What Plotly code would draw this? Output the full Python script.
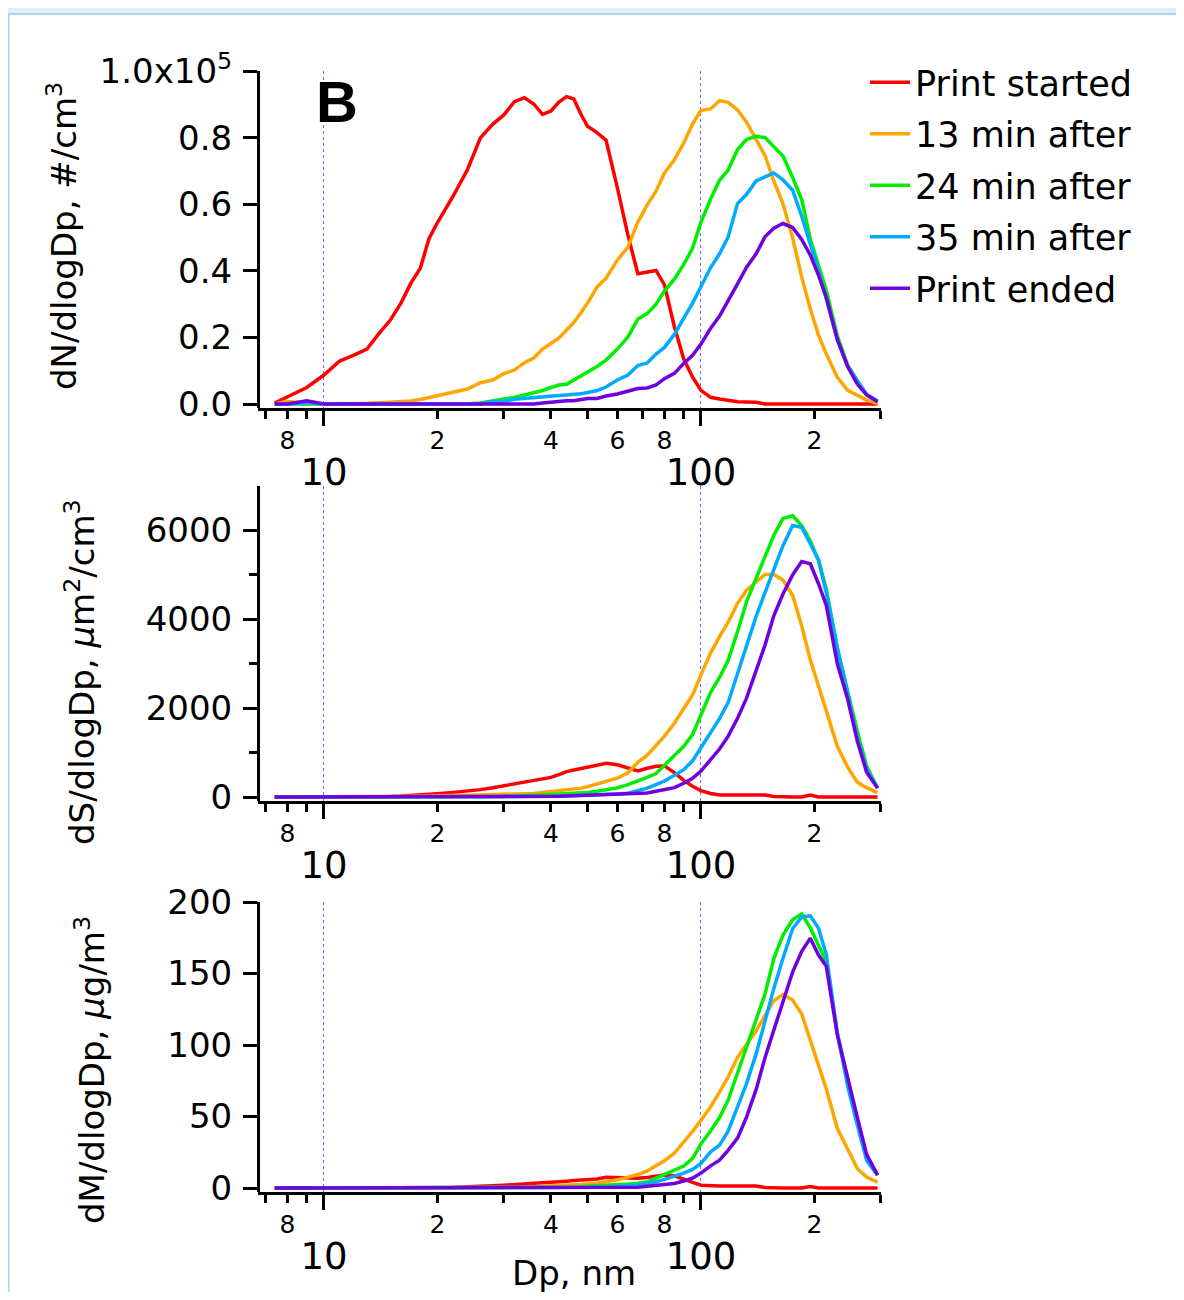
import plotly.graph_objects as go

# ---------------- data ----------------
diameter_nm = [7.4, 8, 9, 10, 11, 12, 13, 14, 15, 16,
               17, 18, 19, 20,
               22, 24, 26, 28, 30,
               32, 34, 36, 38, 40,
               42, 44, 46, 48, 50,
               53, 56, 60, 64, 68,
               72, 76, 80, 85, 90,
               95, 100, 106, 112, 118,
               125, 132, 140, 148, 156,
               165, 175, 185, 195, 205,
               215, 230, 245, 260, 275,
               294]

series_names = ["Print started", "13 min after", "24 min after", "35 min after", "Print ended"]
series_colors = ["#ff0000", "#ffa500", "#00ee00", "#00aaff", "#7000e0"]

# number distribution dN/dlogDp (#/cm3)
dN_started = [300, 2100, 4950, 8700, 12900, 14700, 16500, 21200, 25200, 30300,
              36300, 40700, 49700, 54500,
              62400, 70300, 79900, 84000, 86800,
              90800, 92000, 90100, 87000, 88000,
              90700, 92300, 91600, 87100, 83400,
              81500, 79200, 65000, 50700, 39100,
              39500, 40100, 35800, 23200, 13500,
              8100, 4100, 2000, 1500, 1000,
              650, 600, 550, 0, 0,
              0, 0, 0, 0, 0,
              0, 0, 0, 0, 0,
              0]
dN_13 = [0, 800, 0, 0, 0, 0, 200, 400, 500, 700,
         900, 1350, 1950, 2300,
         3450, 4500, 6400, 7200, 9100,
         10200, 12400, 13800, 16500, 18200,
         19800, 22200, 24500, 27300, 30300,
         35100, 37800, 43200, 47100, 54600,
         59800, 63900, 69400, 73300, 78400,
         84100, 88200, 88600, 91100, 90600,
         88300, 84700, 79700, 74500, 67000,
         60100, 49900, 38100, 28500, 20700,
         15000, 8000, 4100, 2600, 1200,
         100]
dN_24 = [0, 0, 0, 0, 0, 0, 0, 0, 0, 0,
         0, 0, 0, 0,
         0, 100, 300, 1050, 1500,
         1950, 2700, 3150, 4050, 4950,
         5700, 5900, 7200, 8400, 9450,
         11250, 13200, 16500, 20100, 25500,
         27150, 30000, 33900, 37500, 41900,
         46800, 54600, 61500, 67200, 70200,
         76400, 79400, 80400, 80000, 77300,
         74500, 68000, 61400, 49500, 42000,
         34200, 20400, 11700, 6900, 2850,
         900]
dN_35 = [0, 0, 300, 0, 0, 0, 0, 0, 0, 0,
         0, 0, 0, 0,
         0, 0, 0, 750, 900,
         1400, 1700, 1950, 2250, 2400,
         2550, 2700, 2850, 3050, 3450,
         4050, 5100, 7200, 8700, 11550,
         12300, 15000, 17000, 20900, 25700,
         30300, 35300, 40900, 45100, 50100,
         60200, 62900, 67000, 68300, 69400,
         67300, 64200, 56400, 48100, 39900,
         31500, 19200, 11300, 6900, 2850,
         900]
dN_ended = [0, 0, 1000, 0, 0, 0, 0, 0, 0, 0,
            0, 0, 0, 0,
            0, 0, 0, 0, 0,
            0, 0, 0, 300, 600,
            800, 1000, 1000, 1300, 1650,
            1650, 2400, 3000, 3800, 4650,
            4800, 5700, 7600, 9200, 12200,
            14600, 18000, 22700, 26400, 30800,
            36100, 41000, 45100, 50300, 52800,
            54200, 53000, 49400, 44700, 38700,
            32000, 19400, 11200, 5900, 2700,
            700]

# surface distribution dS/dlogDp (um2/cm3)
dS_started = [0, 0, 0, 0, 0, 0, 0, 0, 10, 20,
              30, 40, 55, 75,
              104, 131, 166, 207, 249,
              296, 334, 363, 396, 441,
              503, 571, 609, 640, 672,
              720, 757, 726, 658, 586,
              647, 693, 700, 548, 375,
              242, 145, 79, 45, 45,
              45, 45, 45, 45, 10,
              0, 0, 0, 45, 0,
              0, 0, 0, 0, 0,
              0]
dS_13 = [0, 0, 0, 0, 0, 0, 0, 0, 0, 0,
         10, 15, 20, 30,
         35, 40, 45, 50, 50,
         60, 70, 80, 100, 120,
         140, 150, 170, 200, 230,
         290, 360, 425, 545, 780,
         940, 1150, 1370, 1660, 1990,
         2300, 2750, 3240, 3610, 3930,
         4360, 4650, 4840, 5010, 5010,
         4885, 4540, 3850, 3090, 2480,
         1930, 1140, 670, 330, 210,
         100]
dS_24 = [0, 0, 0, 0, 0, 0, 0, 0, 0, 0,
         0, 0, 0, 0,
         0, 0, 0, 0, 10,
         20, 25, 35, 45, 55,
         65, 75, 80, 90, 100,
         130, 160, 205, 280, 355,
         443, 526, 708, 930, 1142,
         1406, 1830, 2350, 2690, 3070,
         3720, 4390, 4920, 5440, 5890,
         6270, 6330, 6110, 5760, 5330,
         4680, 3350, 2380, 1470, 700,
         200]
dS_35 = [0, 0, 0, 0, 0, 0, 0, 0, 0, 0,
         0, 0, 0, 0,
         0, 0, 0, 0, 0,
         0, 0, 0, 10, 15,
         20, 25, 28, 30, 35,
         45, 55, 65, 85, 140,
         200, 280, 360, 490, 614,
         815, 1100, 1450, 1764, 2123,
         2780, 3425, 4060, 4610, 5115,
         5657, 6110, 6070, 5700, 5330,
         4600, 3350, 2320, 1320, 640,
         200]
dS_ended = [0, 0, 0, 0, 0, 0, 0, 0, 0, 0,
            0, 0, 0, 0,
            0, 0, 0, 0, 0,
            0, 0, 0, 0, 10,
            15, 20, 25, 30, 40,
            45, 50, 60, 68, 80,
            92, 130, 175, 210, 310,
            420, 585, 825, 1080, 1365,
            1770, 2220, 2815, 3430, 4080,
            4570, 5000, 5300, 5250, 4800,
            4310, 3000, 2200, 1250, 560,
            200]

# mass distribution dM/dlogDp (ug/m3)
dM_started = [0, 0, 0, 0, 0, 0, 0, 0, 0, 0,
              0, 0, 0, 0,
              0.3, 0.8, 1.5, 1.6, 2.0,
              2.3, 2.6, 3.0, 3.6, 4.0,
              4.2, 4.8, 5.2, 5.4, 5.6,
              6.3, 7.5, 7.2, 6.5, 6.8,
              7.4, 8.5, 9.0, 8.5, 6.5,
              4.0, 2.0, 1.4, 1.4, 1.4,
              1.4, 1.4, 1.4, 0.3, 0,
              0, 0, 0, 1.0, 0,
              0, 0, 0, 0, 0,
              0]
dM_13 = [0, 0, 0, 0, 0, 0, 0, 0, 0, 0,
         0, 0, 0, 0,
         0, 0, 0, 0, 0.2,
         0.4, 0.6, 0.8, 1.0, 1.2,
         1.4, 1.7, 2.0, 2.4, 2.8,
         3.3, 4.4, 5.7, 7.6, 9.4,
         11.9, 15.5, 19.1, 24.3, 31.7,
         39.6, 47.4, 56.7, 67.1, 77.6,
         91.4, 100.2, 109.8, 120.8, 130.9,
         135.3, 131.4, 121.7, 103.6, 85.7,
         69.2, 41.6, 26.4, 13.5, 7.7,
         4]
dM_24 = [0, 0, 0, 0, 0, 0, 0, 0, 0, 0,
         0, 0, 0, 0,
         0, 0, 0, 0, 0,
         0, 0, 0, 0, 0.2,
         0.3, 0.5, 0.7, 0.9, 1.1,
         1.4, 1.7, 2.1, 2.8, 3.4,
         4.2, 6.9, 9.5, 12.4, 15.3,
         20.7, 30.8, 39.9, 49.2, 61.4,
         80.2, 98.5, 118.8, 136, 160.4,
         176.9, 187.6, 191.6, 182, 170,
         158, 108, 77, 46, 22,
         9]
dM_35 = [0, 0, 0, 0, 0, 0, 0, 0, 0, 0,
         0, 0, 0, 0,
         0, 0, 0, 0, 0,
         0, 0, 0, 0, 0,
         0, 0, 0.2, 0.3, 0.4,
         0.5, 0.7, 1.0, 1.6, 2.2,
         3.3, 4.3, 6.0, 8.2, 10.4,
         13.0, 17.2, 25.2, 30.0, 39.7,
         55.9, 72.8, 93.6, 117.3, 139.4,
         160.7, 181.3, 189.5, 190.3, 181.6,
         163.2, 108.3, 71, 43.7, 19.3,
         9]
dM_ended = [0, 0, 0, 0, 0, 0, 0, 0, 0, 0,
            0, 0, 0, 0,
            0, 0, 0, 0, 0,
            0, 0, 0, 0, 0,
            0, 0, 0, 0, 0.2,
            0.2, 0.3, 0.4, 0.5, 0.6,
            1.2, 1.8, 2.4, 3.1, 4.9,
            6.9, 10.4, 15.5, 19.4, 26.3,
            34.9, 49.4, 68.8, 91.5, 110.4,
            130, 151, 165.5, 174.7, 162.9,
            155, 107, 76.5, 49, 23.5,
            9]

panels = [
    [dN_started, dN_13, dN_24, dN_35, dN_ended],
    [dS_started, dS_13, dS_24, dS_35, dS_ended],
    [dM_started, dM_13, dM_24, dM_35, dM_ended],
]

# tick labels
labeled_tickvals = [8, 20, 40, 60, 80, 200]
labeled_ticktext = ["8", "2", "4", "6", "8", "2"]
unlabeled_tickvals = [7, 9, 30, 50, 70, 90, 300]
major_tickvals = [10, 100]
major_ticktext = ["10", "100"]

yN_tickvals = [0, 20000, 40000, 60000, 80000, 100000]
yN_ticktext = ["0.0", "0.2", "0.4", "0.6", "0.8", "1.0x10<sup>5</sup>"]
yS_tickvals = [0, 2000, 4000, 6000]
yS_ticktext = ["0", "2000", "4000", "6000"]
yS_minorvals = [1000, 3000, 5000]
yM_tickvals = [0, 50, 100, 150, 200]
yM_ticktext = ["0", "50", "100", "150", "200"]

y_titles = ["dN/dlogDp, #/cm<sup>3</sup>",
            "dS/dlogDp, <i>µ</i>m<sup>2</sup>/cm<sup>3</sup>",
            "dM/dlogDp, <i>µ</i>g/m<sup>3</sup>"]

# ---------------- layout geometry ----------------
# the page body adds an 8 px margin, so the figure is drawn 8 px smaller
OFF = 8
W, H = 1168, 1284
FONT = "DejaVu Sans"


def px_x(p):
    return (p - OFF) / W


def px_y(p):
    return 1 - (p - OFF) / H


x_dom = [px_x(258), px_x(881)]
x_range = [0.825, 2.4775]
y_doms = [[px_y(408), px_y(71)], [px_y(801), px_y(486)], [px_y(1192), px_y(902)]]
y_ranges = [[-1200, 100000], [-90, 7000], [-2.8, 200]]
y_ticks = [(yN_tickvals, yN_ticktext), (yS_tickvals, yS_ticktext), (yM_tickvals, yM_ticktext)]

fig = go.Figure()

for p, data in enumerate(panels):
    xa = "x" if p == 0 else f"x{p + 1}"
    ya = "y" if p == 0 else f"y{p + 1}"
    for i, vals in enumerate(data):
        fig.add_trace(go.Scatter(
            x=diameter_nm, y=vals, mode="lines", name=series_names[i],
            line=dict(color=series_colors[i], width=3.5),
            legendgroup=series_names[i], showlegend=(p == 0),
            xaxis=xa, yaxis=ya))
    # empty trace so the overlay axis (decade labels) is drawn
    fig.add_trace(go.Scatter(x=[], y=[], xaxis=f"x{p + 4}", yaxis=ya,
                             showlegend=False, hoverinfo="skip"))

layout = dict(
    template="none",
    width=W, height=H,
    margin=dict(l=0, r=0, t=0, b=0, autoexpand=False),
    paper_bgcolor="white", plot_bgcolor="white",
    font=dict(family=FONT, color="black", size=30),
    showlegend=True,
    legend=dict(x=px_x(865), y=px_y(53), xanchor="left", yanchor="top",
                font=dict(family=FONT, size=35, color="black"),
                bgcolor="rgba(0,0,0,0)", borderwidth=0, itemwidth=40, tracegroupgap=3,
                traceorder="grouped"),
)

for p in range(3):
    xkey = "xaxis" if p == 0 else f"xaxis{p + 1}"
    ykey = "yaxis" if p == 0 else f"yaxis{p + 1}"
    yref = "y" if p == 0 else f"y{p + 1}"
    xref = "x" if p == 0 else f"x{p + 1}"
    layout[xkey] = dict(
        type="log", domain=x_dom, range=x_range, anchor=yref, automargin=False,
        showline=True, linewidth=3, linecolor="black", mirror=False,
        ticks="outside", ticklen=8, tickwidth=3, tickcolor="black",
        tickmode="array", tickvals=labeled_tickvals, ticktext=labeled_ticktext,
        tickfont=dict(family=FONT, size=25), ticklabelstandoff=0,
        minor=dict(tickmode="array", tickvals=unlabeled_tickvals, ticks="outside",
                   ticklen=8, tickwidth=3, tickcolor="black", showgrid=False),
        showgrid=False, zeroline=False, fixedrange=True)
    layout[f"xaxis{p + 4}"] = dict(
        type="log", domain=x_dom, range=x_range, anchor=yref, automargin=False,
        overlaying=xref, side="bottom",
        showline=False, ticks="outside", ticklen=17, tickwidth=3,
        tickcolor="black", tickmode="array", tickvals=major_tickvals,
        ticktext=major_ticktext, tickfont=dict(family=FONT, size=37),
        ticklabelstandoff=15,
        showgrid=True, gridcolor="#6a6aff", griddash="dot", gridwidth=1,
        zeroline=False, fixedrange=True)
    tv, tt = y_ticks[p]
    ydict = dict(
        domain=y_doms[p], range=y_ranges[p], anchor="free", position=px_x(258),
        automargin=False,
        showline=True, linewidth=3, linecolor="black",
        ticks="outside", ticklen=14, tickwidth=3, tickcolor="black",
        tickmode="array", tickvals=tv, ticktext=tt,
        tickfont=dict(family=FONT, size=34), ticklabelstandoff=4,
        showgrid=False, zeroline=False, fixedrange=True)
    if p == 1:
        ydict["minor"] = dict(tickmode="array", tickvals=yS_minorvals, ticks="outside",
                              ticklen=8, tickwidth=3, tickcolor="black", showgrid=False)
    layout[ykey] = ydict

fig.update_layout(**layout)

# y axis titles (rotated text)
title_pos = [(62, 236), (80, 672), (90, 1070)]
for t, (tx, ty) in zip(y_titles, title_pos):
    fig.add_annotation(text=t, x=px_x(tx), y=px_y(ty), xref="paper", yref="paper",
                       textangle=-90, showarrow=False, xanchor="center", yanchor="middle",
                       font=dict(family=FONT, size=34, color="black"))

# x axis title
fig.add_annotation(text="Dp, nm", x=px_x(574), y=px_y(1273), xref="paper", yref="paper",
                   showarrow=False, xanchor="center", yanchor="middle",
                   font=dict(family=FONT, size=34, color="black"))

# panel letter
fig.add_annotation(text="<b>B</b>", x=px_x(337), y=px_y(102), xref="paper", yref="paper",
                   showarrow=False, xanchor="center", yanchor="middle",
                   font=dict(family="Liberation Sans", size=58, color="black"))

# window frame (light blue band at top, thin border on the left)
fig.add_shape(type="rect", xref="paper", yref="paper", x0=0, x1=1, y0=px_y(13), y1=1,
              fillcolor="#e0eff6", line=dict(width=0), layer="below")
fig.add_shape(type="line", xref="paper", yref="paper", x0=0, x1=1, y0=px_y(14), y1=px_y(14),
              line=dict(color="#a8d8e8", width=2))
fig.add_shape(type="line", xref="paper", yref="paper", x0=0.0005, x1=0.0005, y0=0, y1=px_y(14),
              line=dict(color="#a8d8e8", width=2))

fig.write_html("out.html")
